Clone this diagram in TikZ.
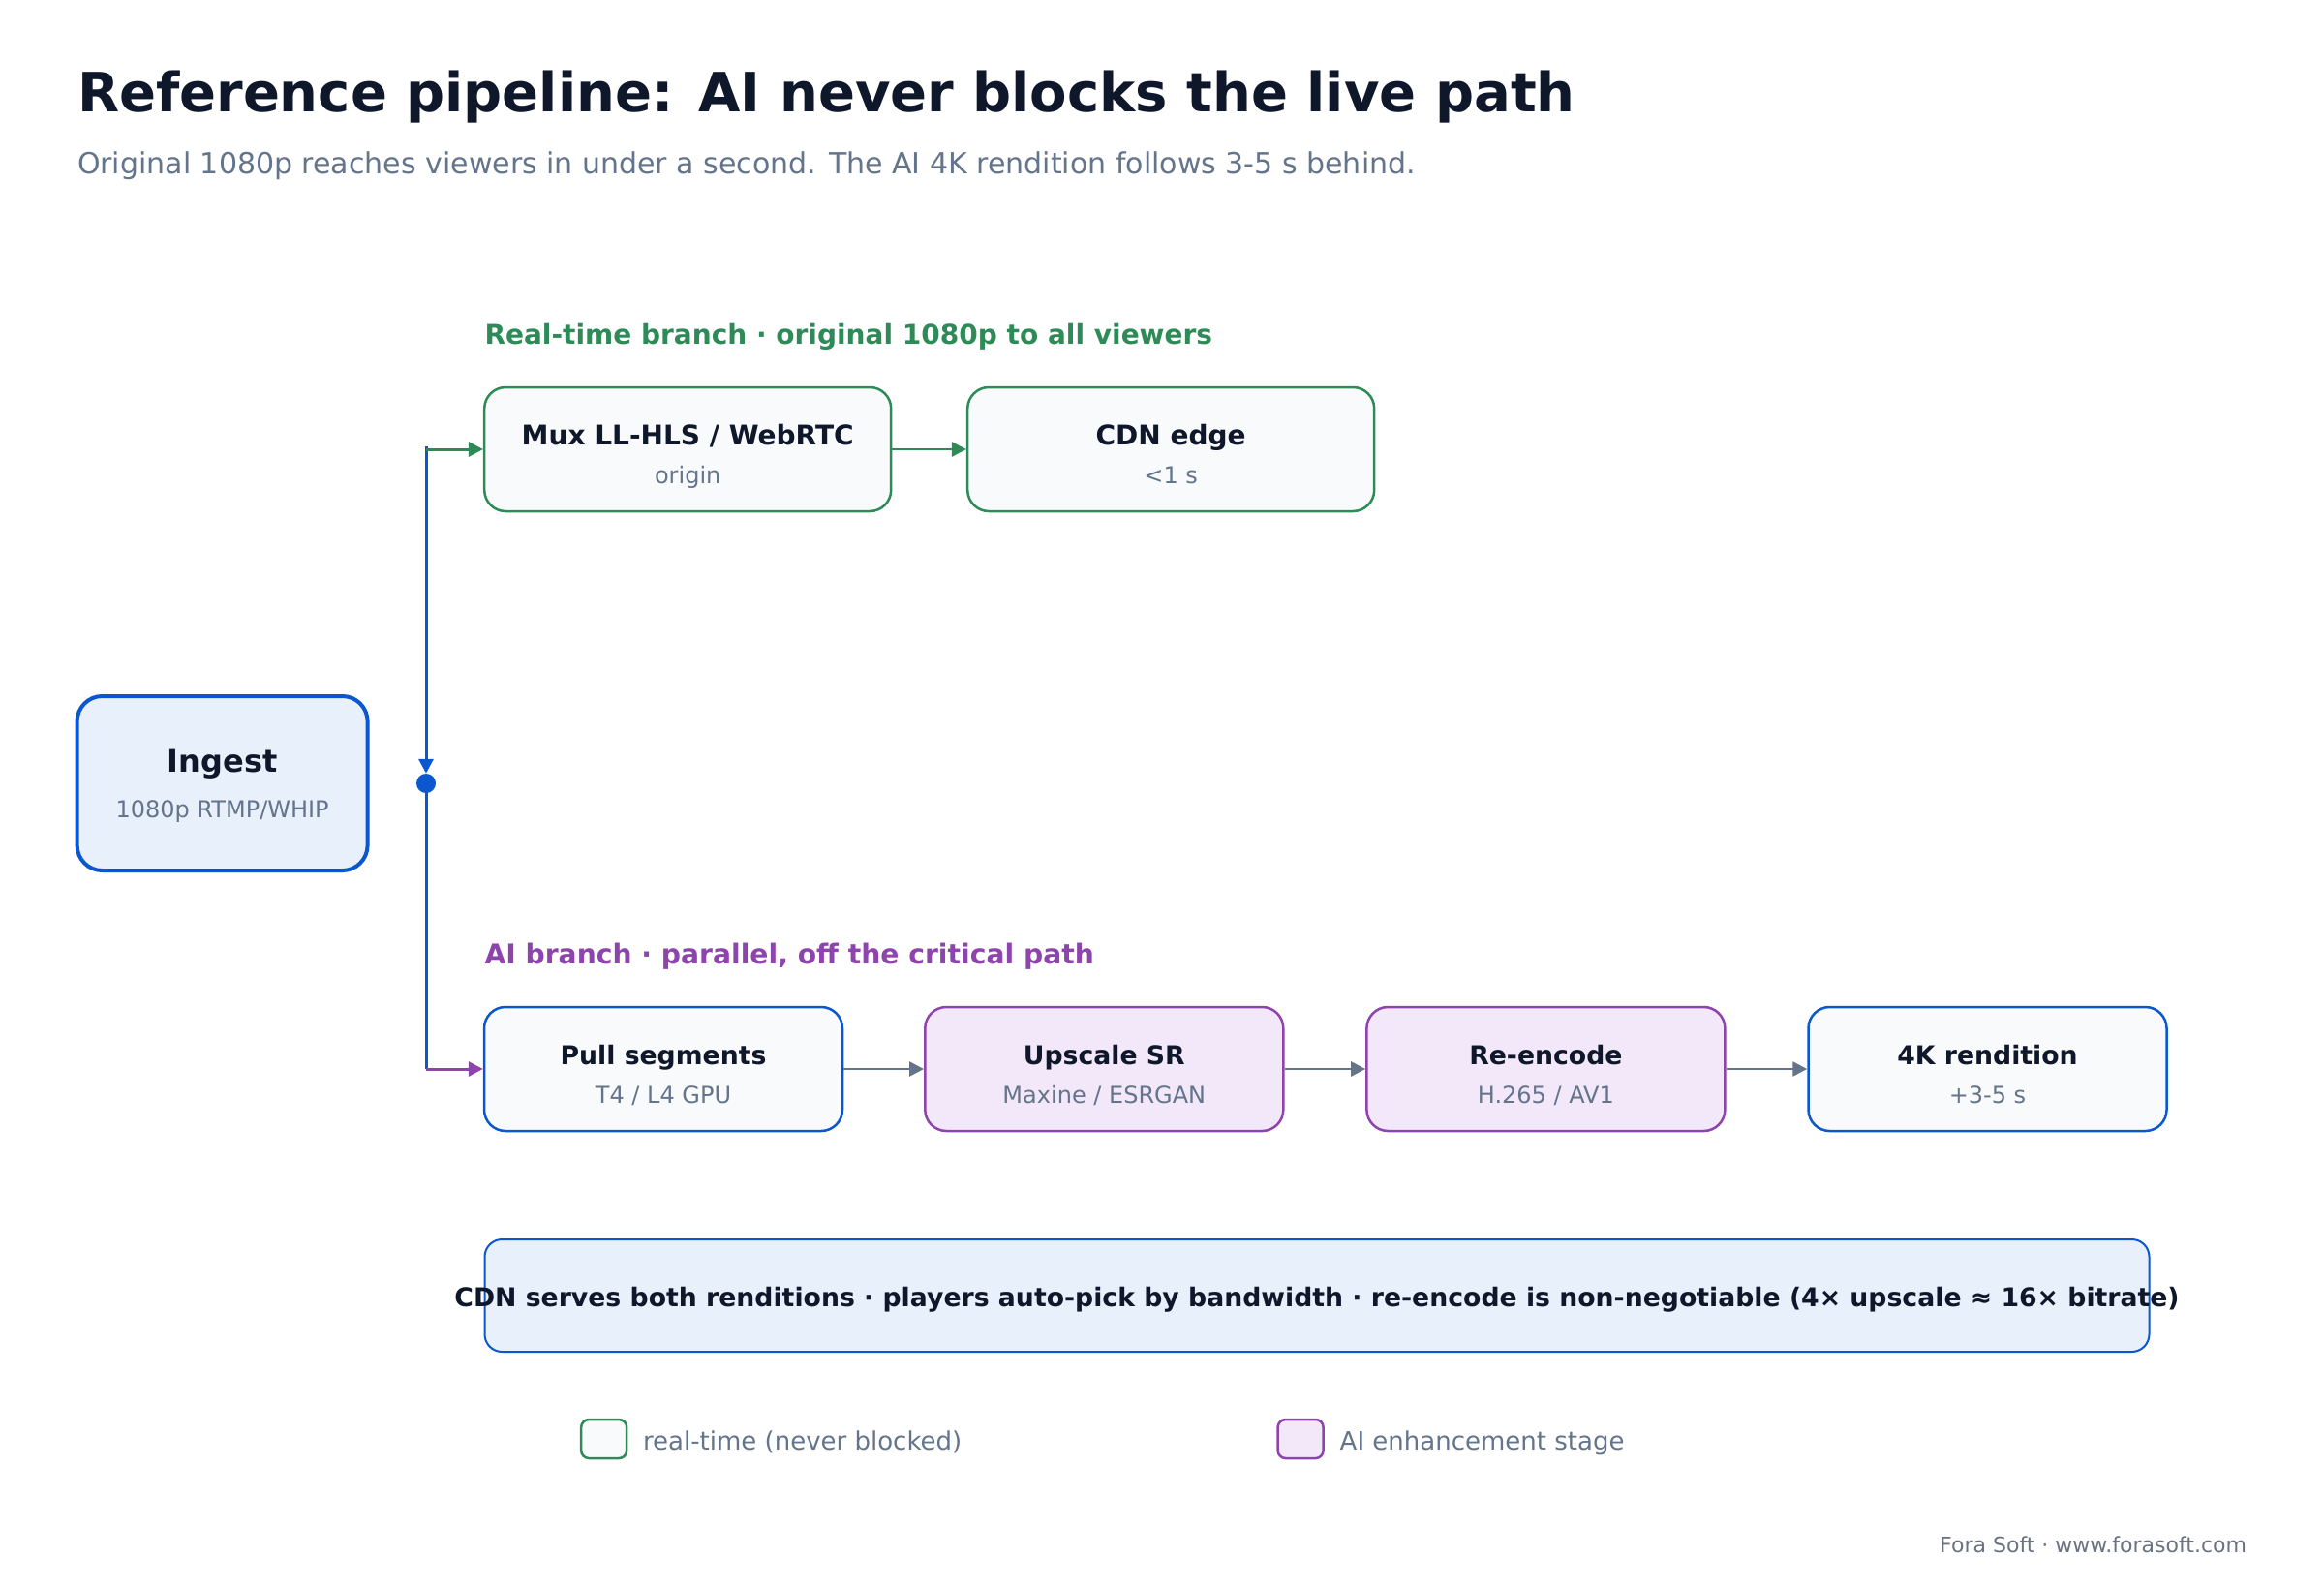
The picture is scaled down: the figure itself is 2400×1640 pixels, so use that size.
\documentclass[tikz,border=0pt]{standalone}
\usepackage{fontspec}
\setmainfont{DejaVu Sans}
\usetikzlibrary{arrows.meta}
\definecolor{ink}{HTML}{0F172A}
\definecolor{muted}{HTML}{64748B}
\definecolor{rtgreen}{HTML}{2E8B57}
\definecolor{aipurple}{HTML}{8E44AD}
\definecolor{ingblue}{HTML}{0B57D0}
\definecolor{inglight}{HTML}{E8F0FC}
\definecolor{boxfill}{HTML}{F8FAFC}
\definecolor{aifill}{HTML}{F3E8FA}
\definecolor{footgray}{HTML}{6B7280}
\newcommand\fsz[1]{\fontsize{#1}{#1}\selectfont}
\begin{document}
\begin{tikzpicture}[x=1pt,y=-1pt,
  txt/.style={inner sep=0pt, outer sep=0pt},
  stagebox/.style={draw, rounded corners=22pt, line width=2.5pt, minimum height=128pt, inner sep=0pt},
  rtbox/.style={stagebox, draw=rtgreen, fill=boxfill, minimum width=420pt},
  aibox/.style={stagebox, draw=aipurple, fill=aifill, minimum width=370pt},
  plainbox/.style={stagebox, draw=ingblue, fill=boxfill, minimum width=370pt},
  btitle/.style={txt, anchor=base, text=ink, font=\fsz{28}\bfseries},
  atitle/.style={txt, anchor=base, text=ink, font=\fsz{26.7}\bfseries},
  bsub/.style={txt, anchor=base, text=muted, font=\fsz{24}},
  tip/.style={-{Triangle[length=15pt,width=15pt]}},
  flow/.style={tip, line width=2.5pt, draw=muted, fill=muted},
]
\useasboundingbox[fill=white] (0,0) rectangle (2400,1640);

% title
\node[txt, anchor=base west, text=ink, font=\fsz{56}\bfseries] (title) at (80,116) {Reference pipeline: AI never blocks the live path};
\node[txt, anchor=base west, text=muted, font=\fsz{30}] (subtitle) at (80,179) {Original 1080p reaches viewers in under a second. The AI 4K rendition follows 3-5 s behind.};

% branch labels
\node[txt, anchor=base west, text=rtgreen, font=\fsz{28}\bfseries] (rtlabel) at (500.5,355) {Real-time branch · original 1080p to all viewers};
\node[txt, anchor=base west, text=aipurple, font=\fsz{28.2}\bfseries] (ailabel) at (500.5,995) {AI branch · parallel, off the critical path};

% ingest
\node[draw=ingblue, fill=inglight, line width=4pt, rounded corners=26pt, minimum width=300pt, minimum height=180pt, inner sep=0pt] (ingest) at (229.6,809) {};
\node[txt, anchor=base, text=ink, font=\fsz{32}\bfseries] (ingestT) at (229.6,797) {Ingest};
\node[bsub] (ingestS) at (229.6,844) {1080p RTMP/WHIP};

% real-time row
\node[rtbox] (mux) at (710.2,464) {};
\node[btitle] (muxT) at (710.2,459) {Mux LL-HLS / WebRTC};
\node[bsub] (muxS) at (710.2,499) {origin};
\node[rtbox] (cdn) at (1209.2,464) {};
\node[btitle] (cdnT) at (1209.2,459) {CDN edge};
\node[bsub] (cdnS) at (1209.2,499) {<1 s};

% AI row
\node[plainbox] (pull) at (685,1104) {};
\node[atitle] (pullT) at (685,1099) {Pull segments};
\node[bsub] (pullS) at (685,1139) {T4 / L4 GPU};
\node[aibox] (up) at (1140.3,1104) {};
\node[atitle] (upT) at (1140.3,1099) {Upscale SR};
\node[bsub] (upS) at (1140.3,1139) {Maxine / ESRGAN};
\node[aibox] (enc) at (1596.4,1104) {};
\node[atitle] (encT) at (1596.4,1099) {Re-encode};
\node[bsub] (encS) at (1596.4,1139) {H.265 / AV1};
\node[plainbox] (fourk) at (2052.5,1104) {};
\node[atitle] (fourkT) at (2052.5,1099) {4K rendition};
\node[bsub] (fourkS) at (2052.5,1139) {+3-5 s};

% trunk
\coordinate (trunkTop) at (440,461);
\coordinate (trunkRT) at (440,464);
\coordinate (trunkBot) at (440,1104);
\node[circle, fill=ingblue, minimum size=20pt, inner sep=0pt] (split) at (440,809) {};
\draw[tip, line width=3pt, draw=ingblue, fill=ingblue] (trunkTop) -- (split.north);
\draw[line width=3pt, ingblue] (split.center) -- (trunkBot);
\draw[tip, line width=3pt, draw=rtgreen, fill=rtgreen] (trunkRT) -- (mux.west);
\draw[tip, line width=3pt, draw=aipurple, fill=aipurple] (trunkBot) -- (pull.west);

% row connectors
\draw[tip, line width=2.5pt, draw=rtgreen, fill=rtgreen] (mux.east) -- (cdn.west);
\draw[flow] (pull.east) -- (up.west);
\draw[flow] (up.east) -- (enc.west);
\draw[flow] (enc.east) -- (fourk.west);

% bottom note
\node[draw=ingblue, fill=inglight, line width=2pt, rounded corners=18pt, minimum width=1719pt, minimum height=116pt, inner sep=0pt] (note) at (1360,1338) {};
\node[txt, anchor=base, text=ink, font=\fsz{26.7}\bfseries] (noteT) at (1360,1349) {CDN serves both renditions · players auto-pick by bandwidth · re-encode is non-negotiable (4× upscale ≈ 16× bitrate)};

% legend
\node[draw=rtgreen, fill=boxfill, line width=2.5pt, rounded corners=8pt, minimum width=47pt, minimum height=40pt, inner sep=0pt] (legRT) at (623.7,1486) {};
\node[txt, anchor=base west, text=muted, font=\fsz{26}] (legRTt) at (664,1497) {real-time (never blocked)};
\node[draw=aipurple, fill=aifill, line width=2.5pt, rounded corners=8pt, minimum width=47pt, minimum height=40pt, inner sep=0pt] (legAI) at (1343.1,1486) {};
\node[txt, anchor=base west, text=muted, font=\fsz{26}] (legAIt) at (1383.7,1497) {AI enhancement stage};

% footer
\node[txt, anchor=base east, text=footgray, font=\fsz{22}] (footer) at (2320,1603) {Fora Soft · www.forasoft.com};
\end{tikzpicture}
\end{document}
